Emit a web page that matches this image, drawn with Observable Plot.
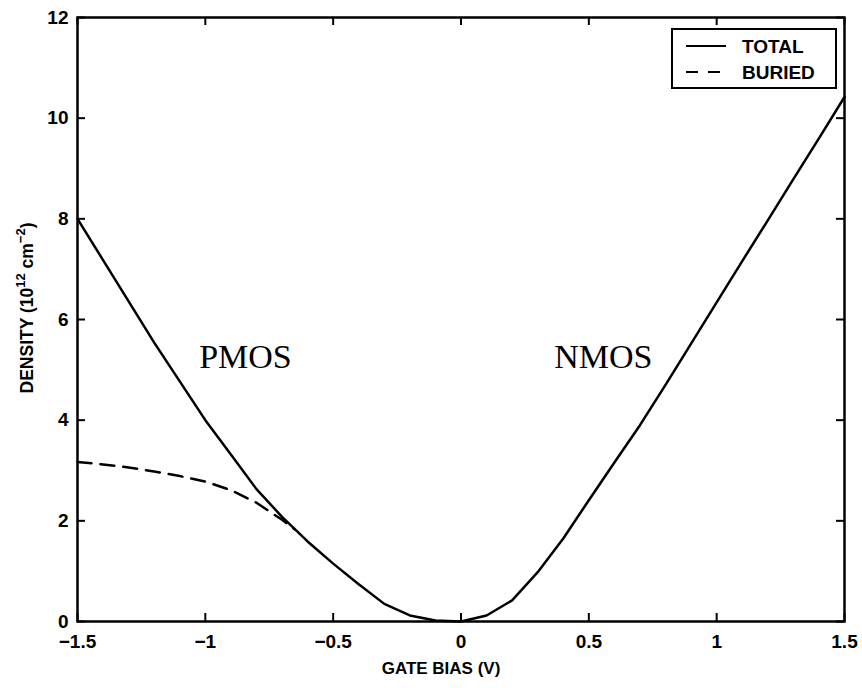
<!DOCTYPE html>
<html>
<head>
<meta charset="utf-8">
<script src="https://cdn.jsdelivr.net/npm/d3@7"></script>
<script src="https://cdn.jsdelivr.net/npm/@observablehq/plot@0.6"></script>
<style>
  html, body { margin: 0; padding: 0; background: #fff; }
  #chart svg { display: block; }
</style>
</head>
<body>
<div id="chart"></div>
<script>
// Gate bias (V) and sheet densities (1e12 cm^-2)
const totalBias    = [-1.5, -1.4, -1.3, -1.2, -1.1, -1.0, -0.9, -0.8, -0.7, -0.6, -0.5, -0.4, -0.3, -0.2, -0.1, 0.0, 0.1, 0.2, 0.3, 0.4, 0.5, 0.6, 0.7, 0.8, 0.9, 1.0, 1.1, 1.2, 1.3, 1.4, 1.5];
const totalDensity = [8.0, 7.18, 6.36, 5.54, 4.77, 4.0, 3.32, 2.63, 2.08, 1.59, 1.15, 0.74, 0.35, 0.12, 0.02, 0.0, 0.12, 0.42, 0.98, 1.65, 2.41, 3.16, 3.9, 4.7, 5.52, 6.34, 7.16, 7.97, 8.79, 9.6, 10.42];
const buriedBias    = [-1.5, -1.4, -1.3, -1.2, -1.1, -1.0, -0.9, -0.8, -0.7, -0.65];
const buriedDensity = [3.17, 3.12, 3.06, 2.98, 2.89, 2.78, 2.61, 2.36, 2.02, 1.83];
const xTicks = [-1.5, -1, -0.5, 0, 0.5, 1, 1.5];
const yTicks = [0, 2, 4, 6, 8, 10, 12];
const xMin = -1.5, xMax = 1.5, yMin = 0, yMax = 12;
const annLabels = ["PMOS", "NMOS"];
const annBias = [-0.843, 0.557];
const annDensity = [5.25, 5.25];
const legendLabels = ["TOTAL", "BURIED"];

const total = totalBias.map((x, i) => ({x, y: totalDensity[i]}));
const buried = buriedBias.map((x, i) => ({x, y: buriedDensity[i]}));
const ann = annLabels.map((t, i) => ({t, x: annBias[i], y: annDensity[i]}));

const fmt = d => (d < 0 ? "\u2212" : "") + Math.abs(d);
const sans = "Liberation Sans, Arial, Helvetica, sans-serif";
const TK = 8;

const plot = Plot.plot({
  width: 862,
  height: 688,
  marginLeft: 77,
  marginRight: 18,
  marginTop: 17,
  marginBottom: 67,
  style: {fontFamily: sans, fontSize: "19px", fontWeight: "bold", background: "#fff", color: "#000"},
  x: {domain: [xMin, xMax]},
  y: {domain: [yMin, yMax]},
  marks: [
    Plot.axisX({ticks: xTicks, tickSize: 0, tickPadding: 13, tickFormat: fmt, label: null}),
    Plot.axisY({ticks: yTicks, tickSize: 0, tickPadding: 9, tickFormat: fmt, label: null}),
    // inward ticks on all four sides
    Plot.ruleX(xTicks, {x: d => d, y1: yMin, y2: yMin, insetTop: -TK, stroke: "#000", strokeWidth: 2}),
    Plot.ruleX(xTicks, {x: d => d, y1: yMax, y2: yMax, insetBottom: -TK, stroke: "#000", strokeWidth: 2}),
    Plot.ruleY(yTicks, {y: d => d, x1: xMin, x2: xMin, insetRight: -TK, stroke: "#000", strokeWidth: 2}),
    Plot.ruleY(yTicks, {y: d => d, x1: xMax, x2: xMax, insetLeft: -TK, stroke: "#000", strokeWidth: 2}),
    Plot.frame({stroke: "#000", strokeWidth: 2.5}),
    Plot.line(buried, {x: "x", y: "y", stroke: "#000", strokeWidth: 2.5, strokeDasharray: "14,9"}),
    Plot.line(total, {x: "x", y: "y", stroke: "#000", strokeWidth: 2.5}),
    Plot.text(ann, {x: "x", y: "y", text: "t", fontFamily: "Liberation Serif, Times New Roman, serif", fontSize: 34, fontWeight: "normal", fill: "#000"})
  ]
});

const svg = d3.select(plot);

// x-axis title
svg.append("text")
  .attr("x", 441).attr("y", 674)
  .attr("text-anchor", "middle")
  .attr("font-family", sans).attr("font-size", 17).attr("font-weight", "bold")
  .text("GATE BIAS (V)");

// y-axis title with superscripts
const yl = svg.append("text")
  .attr("transform", "translate(33,308) rotate(-90)")
  .attr("text-anchor", "middle")
  .attr("font-family", sans).attr("font-size", 17.5).attr("font-weight", "bold");
yl.append("tspan").text("DENSITY (10");
yl.append("tspan").attr("dy", -8).attr("font-size", 13).text("12");
yl.append("tspan").attr("dy", 8).text(" cm");
yl.append("tspan").attr("dy", -8).attr("font-size", 13).text("\u22122");
yl.append("tspan").attr("dy", 8).text(")");

// legend box
const lg = svg.append("g").attr("transform", "translate(672,29)");
lg.append("rect").attr("width", 164).attr("height", 59)
  .attr("fill", "#fff").attr("stroke", "#000").attr("stroke-width", 2);
legendLabels.forEach((t, i) => {
  const yy = 17 + i * 26;
  lg.append("line").attr("x1", 14).attr("x2", 54).attr("y1", yy).attr("y2", yy)
    .attr("stroke", "#000").attr("stroke-width", 2)
    .attr("stroke-dasharray", i === 1 ? "12,10" : null);
  lg.append("text").attr("x", 70).attr("y", yy + 7)
    .attr("text-anchor", "start")
    .attr("font-family", sans).attr("font-size", 19).attr("font-weight", "bold")
    .text(t);
});

document.getElementById("chart").appendChild(plot);
</script>
</body>
</html>
